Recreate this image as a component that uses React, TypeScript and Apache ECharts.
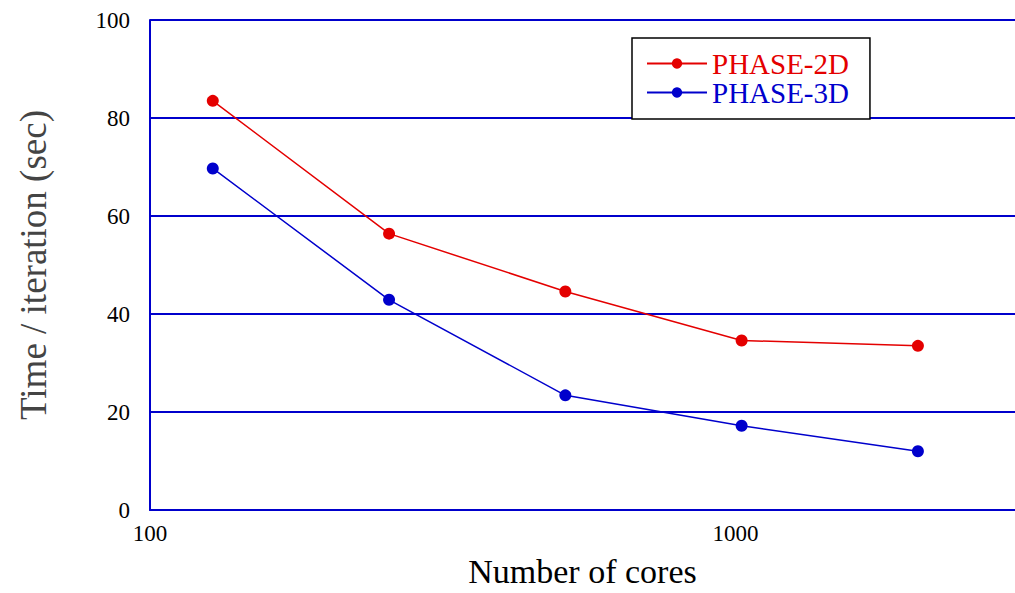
import React, { useEffect, useRef } from "react";
import * as echarts from "echarts";

const cores = [128, 256, 512, 1024, 2048];
const phase2d = [83.5, 56.4, 44.6, 34.6, 33.5];
const phase3d = [69.7, 42.9, 23.4, 17.2, 12.0];
const seriesNames = ["PHASE-2D", "PHASE-3D"];
const xTickLabels = [100, 1000];

const RED = "#e40000";
const BLUE = "#0000cc";
const SERIF = "'Liberation Serif', 'Times New Roman', serif";

export default function App() {
  const ref = useRef<HTMLDivElement>(null);

  useEffect(() => {
    if (!ref.current) return;
    const chart = echarts.init(ref.current, undefined, { renderer: "svg" });
    const pairs = (ys: number[]) => cores.map((c, i) => [c, ys[i]]);
    chart.setOption({
      animation: false,
      backgroundColor: "#ffffff",
      grid: { left: 150, right: 0, top: 20, height: 497 },
      legend: {
        left: 632,
        top: 38,
        orient: "vertical",
        backgroundColor: "#ffffff",
        borderColor: "#000000",
        borderWidth: 1.5,
        borderRadius: 0,
        padding: [11, 21, 12, 14],
        itemWidth: 60,
        itemHeight: 13,
        itemGap: 0,
        textStyle: { fontFamily: SERIF, fontSize: 29, lineHeight: 29 },
        data: [
          { name: seriesNames[0], textStyle: { color: RED } },
          { name: seriesNames[1], textStyle: { color: BLUE } },
        ],
      },
      xAxis: {
        type: "log",
        logBase: 10,
        min: 100,
        max: 3000,
        name: "Number of cores",
        nameLocation: "middle",
        nameGap: 44,
        nameTextStyle: { fontFamily: SERIF, fontSize: 34, color: "#000" },
        axisLine: { lineStyle: { color: BLUE, width: 2 } },
        axisTick: { show: false },
        splitLine: { show: false },
        axisLabel: {
          fontFamily: SERIF,
          fontSize: 23,
          color: "#000",
          margin: 12,
          showMaxLabel: false,
          formatter: (v: number) =>
            xTickLabels.some((t) => Math.abs(t - v) < 1e-6) ? String(v) : "",
        },
      },
      yAxis: {
        type: "value",
        min: 0,
        max: 100,
        interval: 20,
        name: "Time / iteration (sec)",
        nameLocation: "middle",
        nameRotate: 90,
        nameGap: 98,
        nameTextStyle: { fontFamily: SERIF, fontSize: 37, color: "#444444" },
        axisLine: { show: true, lineStyle: { color: BLUE, width: 2 } },
        axisTick: { show: false },
        splitLine: { show: true, lineStyle: { color: BLUE, width: 2 } },
        axisLabel: { fontFamily: SERIF, fontSize: 23, color: "#000", margin: 20 },
      },
      series: [
        {
          name: seriesNames[0],
          type: "line",
          data: pairs(phase2d),
          symbol: "circle",
          symbolSize: 12,
          lineStyle: { color: RED, width: 1.5 },
          itemStyle: { color: RED },
        },
        {
          name: seriesNames[1],
          type: "line",
          data: pairs(phase3d),
          symbol: "circle",
          symbolSize: 12,
          lineStyle: { color: BLUE, width: 1.5 },
          itemStyle: { color: BLUE },
        },
      ],
    });
    return () => chart.dispose();
  }, []);

  return (
    <div
      ref={ref}
      style={{ position: "fixed", left: 0, top: 0, width: 1015, height: 593 }}
    />
  );
}
